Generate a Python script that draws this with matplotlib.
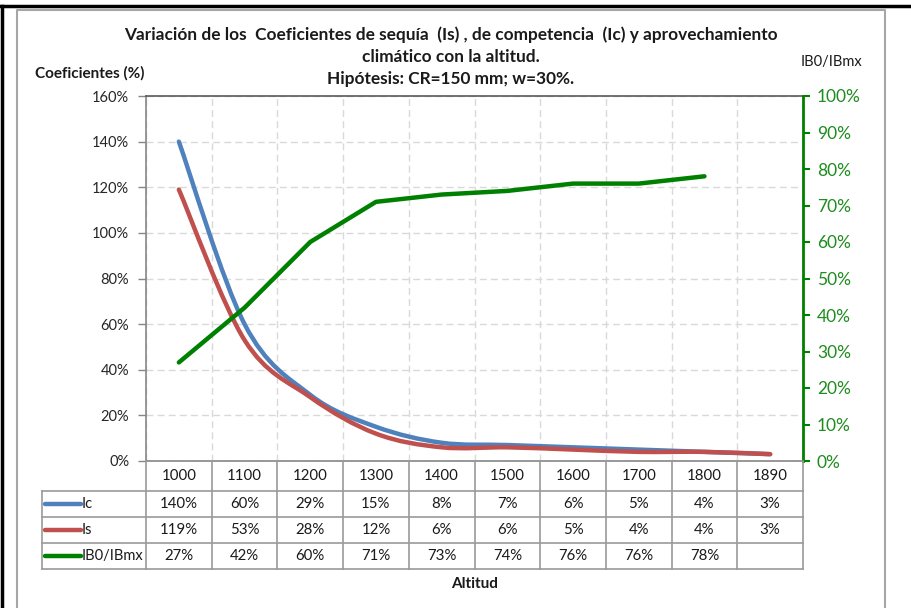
import numpy as np
import matplotlib
matplotlib.use('Agg')
import matplotlib.pyplot as plt
from matplotlib.path import Path
from matplotlib.patches import PathPatch
from matplotlib.lines import Line2D
import matplotlib.transforms as mtransforms

# ---------------- data ----------------
altitudes = ['1000', '1100', '1200', '1300', '1400', '1500', '1600', '1700', '1800', '1890']
ic_vals = [140, 60, 29, 15, 8, 7, 6, 5, 4, 3]
is_vals = [119, 53, 28, 12, 6, 6, 5, 4, 4, 3]
ib_vals = [27, 42, 60, 71, 73, 74, 76, 76, 78]          # no value for 1890
series_names = ['Ic', 'Is', 'IB0/IBmx']
left_ticks = [0, 20, 40, 60, 80, 100, 120, 140, 160]
right_ticks = [0, 10, 20, 30, 40, 50, 60, 70, 80, 90, 100]

title_lines = ["Variación de los  Coeficientes de sequía  (Is) , de competencia  (Ic) y aprovechamiento",
               "climático con la altitud.",
               "Hipótesis: CR=150 mm; w=30%."]

# ---------------- style ----------------
W, H = 911, 608
C_IC = '#4F81BD'
C_IS = '#C0504D'
C_IB = '#008000'
C_GREEN_TXT = '#1E8C1E'
C_AXIS = '#868686'
C_GRID = '#D9D9D9'
C_TABLE = '#9A9A9A'
FONT = 'Lato'
plt.rcParams['font.family'] = [FONT, 'DejaVu Sans']

def fx(px):
    return px / W

def fy(py):
    return 1 - py / H

fig = plt.figure(figsize=(W / 100, H / 100), dpi=100)
fig.patch.set_facecolor('white')

PL, PR, PT, PB = 146, 803, 96, 461
ax = fig.add_axes([fx(PL), fy(PB), fx(PR) - fx(PL), fy(PT) - fy(PB)])
ax2 = ax.twinx()

n = len(altitudes)
x = np.arange(n)
ax.set_xlim(-0.5, n - 0.5)
ax.set_ylim(0, 160)
ax2.set_ylim(0, 100)

# smooth curve (Excel-like smoothing) through the data points
def smooth_path(xs, ys):
    P = np.column_stack([xs, ys]).astype(float)
    m = len(P)
    verts = [P[0]]
    codes = [Path.MOVETO]
    for i in range(m - 1):
        p0 = P[i - 1] if i > 0 else P[i]
        p1 = P[i]
        p2 = P[i + 1]
        p3 = P[i + 2] if i + 2 < m else P[i + 1]
        c1 = p1 + (p2 - p0) / 6.0
        c2 = p2 - (p3 - p1) / 6.0
        verts += [c1, c2, p2]
        codes += [Path.CURVE4] * 3
    return Path(verts, codes)

for vals, col in [(ic_vals, C_IC), (is_vals, C_IS)]:
    patch = PathPatch(smooth_path(x, vals), facecolor='none', edgecolor=col,
                      lw=3.2, capstyle='round', joinstyle='round', zorder=3)
    ax.add_patch(patch)

ax2.plot(x[:len(ib_vals)], ib_vals, color=C_IB, lw=3.2, solid_capstyle='round',
         solid_joinstyle='round', zorder=3)

# axes, ticks, grid
ax.set_yticks(left_ticks)
ax.set_yticklabels([f'{v}%' for v in left_ticks], fontsize=10.5, color='#262626')
ax2.set_yticks(right_ticks)
ax2.set_yticklabels([f'{v}%' for v in right_ticks], fontsize=12.5, color=C_GREEN_TXT)
ax.tick_params(axis='y', direction='out', length=6, width=1, color=C_AXIS, pad=6)
ax2.tick_params(axis='y', direction='out', length=5, width=1.5, color=C_IB, pad=5)

ax.set_xticks(x)
ax.set_xticklabels([])
ax.tick_params(axis='x', length=0)
ax.set_xticks(np.arange(-0.5, n, 1.0), minor=True)
ax.tick_params(axis='x', which='minor', length=0)
ax.yaxis.grid(True, color=C_GRID, ls=(0, (5, 3)), lw=1)
ax.xaxis.grid(True, which='minor', color=C_GRID, ls=(0, (5, 3)), lw=1)
ax.set_axisbelow(True)

for sp in ['left', 'bottom']:
    ax.spines[sp].set_color(C_AXIS)
    ax.spines[sp].set_linewidth(1.2)
ax.spines['top'].set_color('#595959')
ax.spines['top'].set_linewidth(1.2)
ax.spines['right'].set_visible(False)
for sp in ['left', 'bottom', 'top']:
    ax2.spines[sp].set_visible(False)
ax2.spines['right'].set_color(C_IB)
ax2.spines['right'].set_linewidth(2)

# ---------------- data table ----------------
tr = mtransforms.blended_transform_factory(ax.transData, fig.transFigure)
row_lines = [491, 517, 543, 569]
row_centers = [504, 530, 556]
header_center = 476
TL = 42  # left edge of legend column (px)
TFS = 10.8

def add_line(xs, ys, transform, **kw):
    fig.add_artist(Line2D(xs, ys, transform=transform, color=C_TABLE, lw=1.2,
                          clip_on=False, **kw))

# vertical column boundaries
for b in np.arange(-0.5, n, 1.0):
    add_line([b, b], [fy(PB), fy(row_lines[-1])], tr)
# horizontal row lines
for ry in row_lines:
    add_line([fx(TL), fx(PR)], [fy(ry), fy(ry)], fig.transFigure)
add_line([fx(TL), fx(TL)], [fy(row_lines[0]), fy(row_lines[-1])], fig.transFigure)

# header (categories)
for i, lab in enumerate(altitudes):
    fig.text(i, fy(header_center), lab, transform=tr, fontsize=TFS, ha='center',
             va='center', color='#1a1a1a')

# rows
rows = [ic_vals, is_vals, ib_vals]
colors = [C_IC, C_IS, C_IB]
for r, (vals, col, name) in enumerate(zip(rows, colors, series_names)):
    yc = fy(row_centers[r])
    for i, v in enumerate(vals):
        fig.text(i, yc, f'{v}%', transform=tr, fontsize=TFS, ha='center',
                 va='center', color='#1a1a1a')
    fig.add_artist(Line2D([fx(45), fx(81)], [yc, yc], transform=fig.transFigure,
                          color=col, lw=3.2, solid_capstyle='round'))
    fig.text(fx(82), yc, name, fontsize=10.5, ha='left', va='center', color='#1a1a1a')

# ---------------- texts ----------------
for line, py in zip(title_lines, [35, 57, 79]):
    fig.text(fx(451), fy(py), line, ha='center', va='center', fontsize=12.4,
             fontweight='bold', color='#1a1a1a')
fig.text(fx(35), fy(73), 'Coeficientes (%)', ha='left', va='center', fontsize=11,
         fontweight='bold', color='#1a1a1a')
fig.text(fx(862), fy(62), 'IB0/IBmx', ha='right', va='center', fontsize=10.5,
         color='#1a1a1a')
fig.text(fx((PL + PR) / 2), fy(584), 'Altitud', ha='center', va='center', fontsize=11,
         fontweight='bold', color='#1a1a1a')

# ---------------- frames ----------------
fig.add_artist(Line2D([fx(17), fx(17), fx(885), fx(885)], [0, fy(10), fy(10), 0],
                      transform=fig.transFigure, color='#A6A6A6', lw=1.5))
fig.add_artist(Line2D([0, 1], [fy(6), fy(6)], transform=fig.transFigure,
                      color='black', lw=2.5))
fig.add_artist(Line2D([fx(2), fx(2)], [0, fy(6)], transform=fig.transFigure,
                      color='black', lw=2.5))

fig.savefig('out.png', dpi=100, facecolor='white')
